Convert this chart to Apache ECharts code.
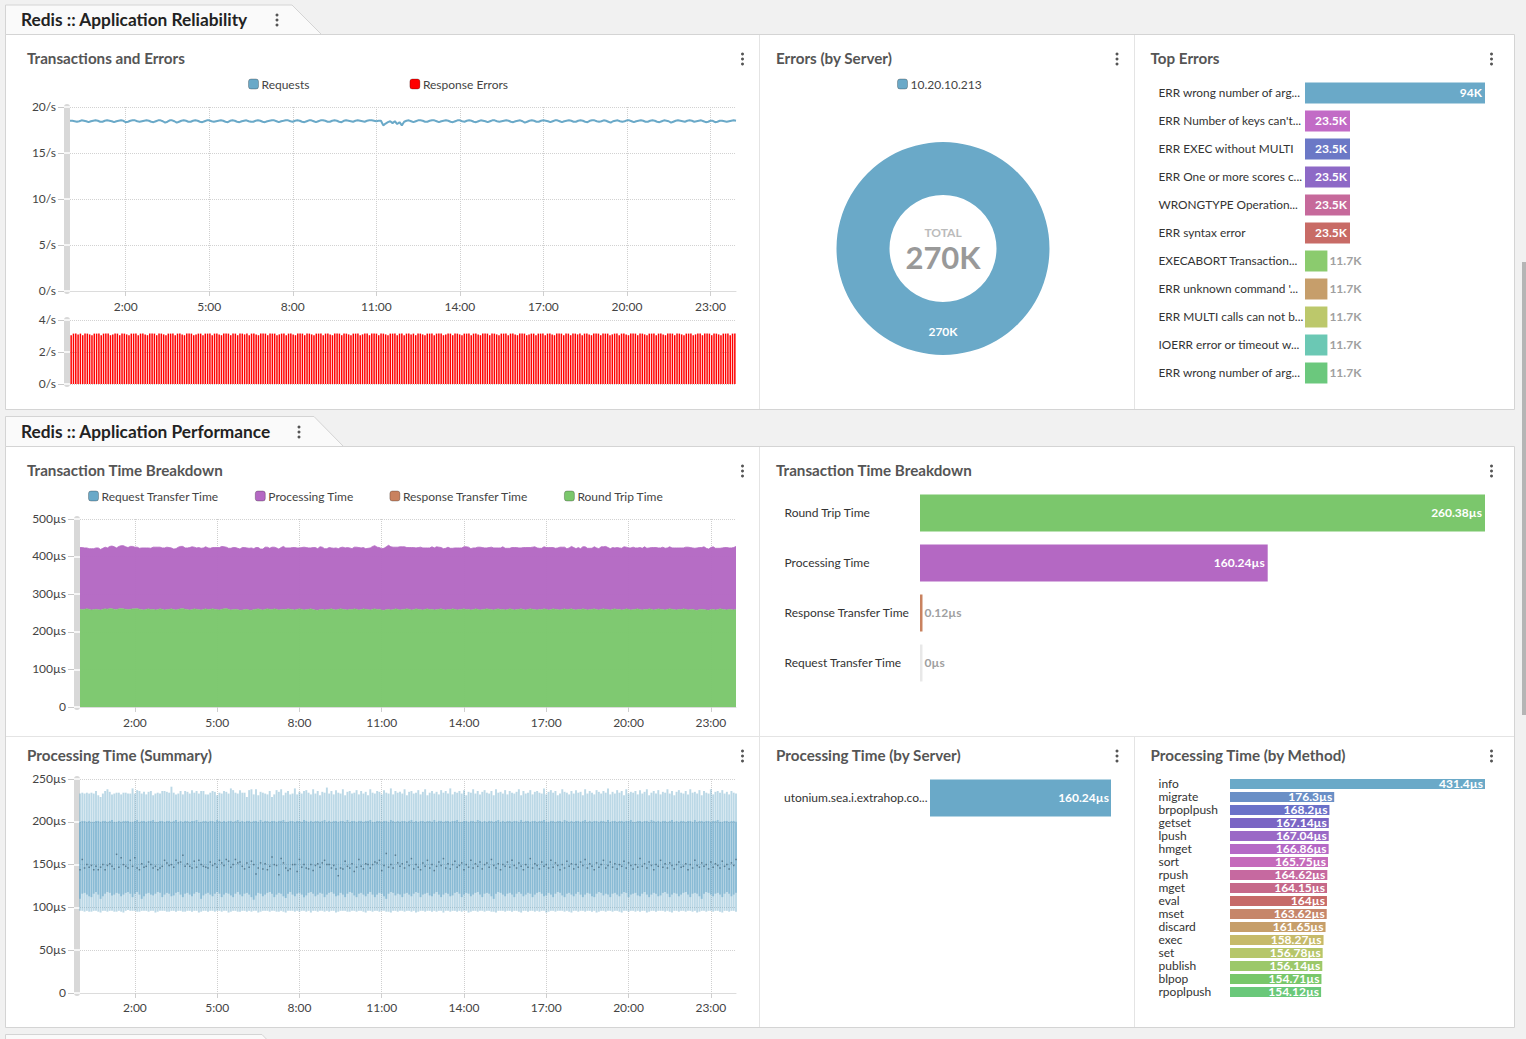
<!DOCTYPE html>
<html><head><meta charset="utf-8">
<style>html,body{margin:0;padding:0;background:#f1f1f1;overflow:hidden}#c{width:1526px;height:1039px}</style>
<script src="https://cdn.jsdelivr.net/npm/echarts@6/dist/echarts.min.js"></script>
</head><body><div id="c"></div>
<script>
const tickLabels=['2:00','5:00','8:00','11:00','14:00','17:00','20:00','23:00'];
const requests=[
18.5,18.5,18.45,18.4,18.45,18.55,18.5,18.45,18.35,18.45,18.5,18.55,
18.5,18.4,18.4,18.5,18.55,18.5,18.45,18.35,18.45,18.5,18.55,18.5,
18.35,18.4,18.5,18.55,18.55,18.45,18.4,18.45,18.5,18.55,18.5,18.4,
18.35,18.45,18.55,18.55,18.45,18.3,18.4,18.55,18.55,18.45,18.3,18.4,
18.5,18.55,18.5,18.4,18.4,18.5,18.55,18.5,18.4,18.35,18.45,18.55,
18.55,18.45,18.4,18.45,18.5,18.55,18.5,18.4,18.35,18.5,18.55,18.5,
18.4,18.35,18.45,18.5,18.55,18.45,18.4,18.4,18.5,18.55,18.5,18.4,
18.35,18.45,18.5,18.55,18.55,18.45,18.35,18.45,18.5,18.55,18.55,18.45,
18.4,18.5,18.55,18.5,18.4,18.35,18.45,18.55,18.55,18.45,18.35,18.45,
18.55,18.55,18.5,18.4,18.4,18.5,18.55,18.5,18.4,18.35,18.5,18.55,
18.5,18.45,18.4,18.5,18.55,18.5,18.45,18.4,18.5,18.55,18.55,18.5,
18.45,18.5,18.5,18.0,18.2,18.35,18.45,18.25,18.45,18.15,18.35,18.0,
18.4,18.5,18.55,18.45,18.35,18.45,18.55,18.55,18.5,18.4,18.4,18.5,
18.55,18.55,18.45,18.35,18.45,18.5,18.55,18.5,18.4,18.35,18.45,18.55,
18.55,18.45,18.4,18.5,18.55,18.5,18.4,18.35,18.45,18.55,18.5,18.45,
18.35,18.45,18.55,18.55,18.45,18.4,18.45,18.5,18.55,18.5,18.4,18.35,
18.45,18.5,18.55,18.45,18.3,18.4,18.5,18.55,18.5,18.4,18.4,18.5,
18.55,18.5,18.45,18.35,18.45,18.55,18.55,18.45,18.35,18.45,18.5,18.55,
18.5,18.4,18.4,18.5,18.55,18.5,18.4,18.35,18.5,18.55,18.55,18.45,
18.4,18.45,18.55,18.5,18.4,18.3,18.45,18.5,18.55,18.45,18.4,18.45,
18.55,18.55,18.45,18.35,18.45,18.5,18.55,18.5,18.4,18.4,18.5,18.55,
18.5,18.4,18.35,18.45,18.55,18.5,18.45,18.3,18.4,18.5,18.55,18.5,
18.45,18.4,18.5,18.55,18.5,18.4,18.45,18.5,18.55,18.45,18.35,18.4,
18.5,18.5,18.35,18.4,18.5,18.5,18.45,18.4,18.45,18.5,18.55,18.5];
const responseErrors=[
3.05,3.15,3.15,3.1,3.15,3.05,3.15,3.15,3.1,3.05,3.15,3.15,
3.15,3.05,3.15,3.15,3.15,3.05,3.1,3.15,3.15,3.05,3.15,3.15,
3.1,3.05,3.15,3.15,3.15,3.05,3.15,3.15,3.1,3.05,3.15,3.15,
3.15,3.05,3.15,3.15,3.1,3.05,3.15,3.15,3.15,3.05,3.15,3.15,
3.1,3.05,3.15,3.15,3.15,3.05,3.1,3.15,3.15,3.05,3.15,3.15,
3.15,3.05,3.15,3.15,3.1,3.05,3.15,3.15,3.15,3.05,3.15,3.15,
3.05,3.15,3.15,3.1,3.15,3.05,3.15,3.15,3.1,3.05,3.15,3.15,
3.15,3.05,3.15,3.15,3.15,3.05,3.1,3.15,3.15,3.05,3.15,3.15,
3.1,3.05,3.15,3.15,3.15,3.05,3.15,3.15,3.1,3.05,3.15,3.15,
3.15,3.05,3.15,3.15,3.1,3.05,3.15,3.15,3.15,3.05,3.15,3.15,
3.1,3.05,3.15,3.15,3.15,3.05,3.1,3.15,3.15,3.05,3.15,3.15,
3.15,3.05,3.15,3.15,3.1,3.05,3.15,3.15,3.15,3.05,3.15,3.15,
3.05,3.15,3.15,3.1,3.15,3.05,3.15,3.15,3.1,3.05,3.15,3.15,
3.15,3.05,3.15,3.15,3.15,3.05,3.1,3.15,3.15,3.05,3.15,3.15,
3.1,3.05,3.15,3.15,3.15,3.05,3.15,3.15,3.1,3.05,3.15,3.15,
3.15,3.05,3.15,3.15,3.1,3.05,3.15,3.15,3.15,3.05,3.15,3.15,
3.1,3.05,3.15,3.15,3.15,3.05,3.1,3.15,3.15,3.05,3.15,3.15,
3.15,3.05,3.15,3.15,3.1,3.05,3.15,3.15,3.15,3.05,3.15,3.15,
3.05,3.15,3.15,3.1,3.15,3.05,3.15,3.15,3.1,3.05,3.15,3.15,
3.15,3.05,3.15,3.15,3.15,3.05,3.1,3.15,3.15,3.05,3.15,3.15,
3.1,3.05,3.15,3.15,3.15,3.05,3.15,3.15,3.1,3.05,3.15,3.15,
3.15,3.05,3.15,3.15,3.1,3.05,3.15,3.15,3.15,3.05,3.15,3.15,
3.1,3.05,3.15,3.15,3.15,3.05,3.1,3.15,3.15,3.05,3.15,3.15,
3.15,3.05,3.15,3.15,3.1,3.05,3.15,3.15,3.15,3.05,3.15,3.15];
const roundTrip=[
260,259,260,261,260,258,259,260,259,258,260,261,
260,262,261,260,259,261,262,261,260,259,260,261,
261,262,260,259,258,260,261,259,260,258,259,261,
260,258,259,260,261,259,258,260,261,262,260,259,
258,259,261,260,259,258,260,261,259,260,261,260,
259,258,260,261,262,260,258,259,260,259,257,258,
259,260,258,257,259,260,261,259,258,260,261,260,
259,261,260,258,259,260,259,261,260,259,258,260,
261,260,258,259,260,261,259,258,257,259,260,258,
259,260,261,259,258,260,261,260,259,258,260,259,
261,260,258,259,261,260,259,258,260,261,259,260,
258,257,259,260,258,259,261,260,258,259,260,261,
260,258,259,261,260,259,258,260,261,259,260,258,
259,260,261,259,258,260,259,261,260,258,259,260,
261,259,260,258,259,261,260,258,259,260,261,260,
259,258,260,261,259,260,258,259,261,260,258,259,
260,261,259,258,260,261,260,259,258,260,259,261,
260,258,259,261,260,259,258,260,261,259,260,261,
259,258,260,259,261,260,258,259,260,261,259,258,
260,261,260,259,258,260,261,259,260,258,259,261,
260,258,259,260,261,259,258,260,259,261,260,258,
259,261,260,259,258,260,261,260,259,258,260,259,
261,260,258,259,260,258,257,259,260,259,258,257,
259,260,258,259,261,260,259,258,260,259,258,260];
const processing=[
164,165,163,162,161,163,162,163,164,161,162,164,
163,165,167,166,164,166,167,168,166,165,167,166,
164,163,162,164,165,163,162,163,165,167,166,164,
163,165,166,164,162,161,163,165,166,165,163,164,
166,167,164,163,165,164,163,165,164,162,163,164,
165,166,167,165,163,162,164,165,164,163,163,166,
165,163,164,166,162,164,163,161,162,165,164,162,
166,164,163,162,165,167,164,162,163,165,166,163,
162,164,167,165,163,162,165,166,164,167,165,163,
162,164,162,163,165,161,163,165,164,166,163,162,
164,165,166,164,163,161,163,165,167,168,166,164,
163,165,167,170,168,166,164,165,168,167,166,163,
164,166,165,162,164,166,165,163,162,164,166,165,
167,165,163,162,164,165,163,161,163,165,164,163,
165,167,165,163,164,162,165,167,165,163,162,164,
166,165,163,162,164,166,164,163,161,164,166,165,
163,162,165,166,164,163,165,167,165,162,163,165,
164,166,165,163,162,164,167,165,164,162,163,166,
165,163,164,162,165,166,164,163,162,165,164,163,
166,165,167,165,163,164,162,165,163,164,167,164,
163,165,166,163,162,165,164,166,163,162,164,166,
165,162,163,166,164,163,165,163,164,165,163,164,
162,165,167,165,163,164,166,165,164,167,164,163,
165,166,164,163,161,163,165,166,163,164,166,167];
const requestTransfer=[
0,0,0,0,0,0,0,0,0,0,0,0, 0,0,0,0,0,0,0,0,0,0,0,0, 0,0,0,0,0,0,0,0,0,0,0,0, 0,0,0,0,0,0,0,0,0,0,0,0,
0,0,0,0,0,0,0,0,0,0,0,0, 0,0,0,0,0,0,0,0,0,0,0,0, 0,0,0,0,0,0,0,0,0,0,0,0, 0,0,0,0,0,0,0,0,0,0,0,0,
0,0,0,0,0,0,0,0,0,0,0,0, 0,0,0,0,0,0,0,0,0,0,0,0, 0,0,0,0,0,0,0,0,0,0,0,0, 0,0,0,0,0,0,0,0,0,0,0,0,
0,0,0,0,0,0,0,0,0,0,0,0, 0,0,0,0,0,0,0,0,0,0,0,0, 0,0,0,0,0,0,0,0,0,0,0,0, 0,0,0,0,0,0,0,0,0,0,0,0,
0,0,0,0,0,0,0,0,0,0,0,0, 0,0,0,0,0,0,0,0,0,0,0,0, 0,0,0,0,0,0,0,0,0,0,0,0, 0,0,0,0,0,0,0,0,0,0,0,0,
0,0,0,0,0,0,0,0,0,0,0,0, 0,0,0,0,0,0,0,0,0,0,0,0, 0,0,0,0,0,0,0,0,0,0,0,0, 0,0,0,0,0,0,0,0,0,0,0,0];
const responseTransfer=[
.1,.1,.1,.1,.1,.1,.1,.1,.1,.1,.1,.1, .1,.1,.1,.1,.1,.1,.1,.1,.1,.1,.1,.1, .1,.1,.1,.1,.1,.1,.1,.1,.1,.1,.1,.1, .1,.1,.1,.1,.1,.1,.1,.1,.1,.1,.1,.1,
.1,.1,.1,.1,.1,.1,.1,.1,.1,.1,.1,.1, .1,.1,.1,.1,.1,.1,.1,.1,.1,.1,.1,.1, .1,.1,.1,.1,.1,.1,.1,.1,.1,.1,.1,.1, .1,.1,.1,.1,.1,.1,.1,.1,.1,.1,.1,.1,
.1,.1,.1,.1,.1,.1,.1,.1,.1,.1,.1,.1, .1,.1,.1,.1,.1,.1,.1,.1,.1,.1,.1,.1, .1,.1,.1,.1,.1,.1,.1,.1,.1,.1,.1,.1, .1,.1,.1,.1,.1,.1,.1,.1,.1,.1,.1,.1,
.1,.1,.1,.1,.1,.1,.1,.1,.1,.1,.1,.1, .1,.1,.1,.1,.1,.1,.1,.1,.1,.1,.1,.1, .1,.1,.1,.1,.1,.1,.1,.1,.1,.1,.1,.1, .1,.1,.1,.1,.1,.1,.1,.1,.1,.1,.1,.1,
.1,.1,.1,.1,.1,.1,.1,.1,.1,.1,.1,.1, .1,.1,.1,.1,.1,.1,.1,.1,.1,.1,.1,.1, .1,.1,.1,.1,.1,.1,.1,.1,.1,.1,.1,.1, .1,.1,.1,.1,.1,.1,.1,.1,.1,.1,.1,.1,
.1,.1,.1,.1,.1,.1,.1,.1,.1,.1,.1,.1, .1,.1,.1,.1,.1,.1,.1,.1,.1,.1,.1,.1, .1,.1,.1,.1,.1,.1,.1,.1,.1,.1,.1,.1, .1,.1,.1,.1,.1,.1,.1,.1,.1,.1,.1,.1];
const boxMin=[
96,96,95,96,95,95,96,96,95,94,96,96,95,96,96,95,95,96,95,94,96,97,96,96,
96,95,95,96,96,96,95,96,96,94,95,96,96,96,95,95,96,96,95,96,96,95,95,96,
96,95,96,96,94,95,96,96,95,96,96,95,96,96,95,96,96,94,95,96,96,95,95,96,
96,95,96,95,96,96,94,95,96,96,96,95,96,96,95,95,96,95,94,96,96,96,95,96,
95,96,96,95,96,94,96,96,95,96,96,95,96,95,96,96,94,95,96,96,96,95,95,96,
96,95,96,96,95,94,96,96,95,96,96,95,96,96,95,95,94,96,96,95,96,96,95,96,
96,95,96,94,95,96,96,95,96,96,95,96,95,96,96,94,96,96,95,96,96,95,96,95,
96,96,94,95,96,96,95,96,96,95,96,96,95,95,94,96,96,96,95,96,96,95,96,96,
95,94,96,96,95,96,96,95,96,95,96,96,94,95,96,96,95,96,96,96,95,96,95,94,
96,96,95,96,96,95,96,96,95,96,94,95,96,96,95,96,96,95,96,96,95,94,96,96,
95,96,96,95,96,95,96,96,94,95,96,96,95,96,96,96,95,96,95,94,96,96,95,96,
96,95,96,96,95,96,94,95,96,96,95,96,96,95,96,96,95,94,96,96,95,96,96,95];
const boxQ1=[
110,116,117,115,113,112,116,118,115,110,113,116,118,117,114,115,117,116,113,115,117,118,116,112,
116,118,115,110,113,116,117,115,114,116,118,117,112,115,117,116,113,114,117,118,115,112,116,117,
115,113,116,118,117,110,114,116,117,115,113,116,118,116,112,115,117,116,114,112,116,118,115,113,
116,117,115,112,109,114,117,116,113,115,117,118,116,112,115,117,116,113,111,116,118,115,113,116,
117,115,112,114,117,118,116,113,115,117,116,112,115,117,118,116,113,114,117,115,112,116,118,117,
114,112,116,117,115,113,116,118,115,112,115,117,116,113,110,116,118,117,114,116,115,112,116,117,
115,113,116,118,117,112,115,116,117,114,113,116,118,115,112,115,117,116,113,114,117,118,116,112,
115,117,116,113,115,117,118,115,112,116,117,116,113,110,116,118,117,115,113,116,117,115,112,116,
118,116,113,115,117,116,112,115,117,118,116,113,114,117,115,112,116,118,117,114,112,116,117,115,
113,116,118,115,112,115,117,116,113,112,116,118,117,114,116,115,112,116,117,115,113,116,118,117,
112,115,116,117,114,113,116,118,115,112,115,117,116,113,114,117,118,116,112,115,117,116,113,115,
117,118,115,112,116,117,116,113,110,116,118,117,115,113,116,117,115,112,116,118,116,113,115,117];
const boxMed=[
144,156,146,150,147,149,144,148,144,147,150,144,149,151,148,145,162,147,158,150,148,146,155,148,
158,146,144,151,147,148,153,150,146,148,144,146,148,155,152,149,150,147,155,152,153,161,148,151,
148,146,154,147,155,150,148,147,146,153,149,151,147,155,152,149,156,154,147,150,156,152,153,148,
145,152,147,154,150,139,146,152,145,151,144,148,159,150,149,138,157,152,146,143,145,150,150,142,
156,147,150,146,145,150,143,149,151,147,152,155,150,150,146,149,145,137,146,145,154,148,146,151,
142,147,156,148,145,151,150,146,150,153,152,155,143,149,163,147,150,146,161,152,148,151,146,153,
149,157,145,150,147,144,152,148,155,146,150,143,148,153,149,157,146,151,145,150,154,147,149,152,
144,150,147,155,146,151,148,153,145,150,152,147,156,149,146,151,144,150,148,153,147,155,149,146,
152,148,144,150,147,157,146,151,149,145,153,148,150,146,155,147,152,149,144,150,146,154,148,151,
145,150,147,153,149,156,146,151,148,144,152,147,150,155,146,149,153,147,151,145,150,148,154,146,
152,149,145,150,147,157,148,151,146,153,149,144,150,148,155,147,151,146,152,149,145,150,153,147,
148,151,144,150,146,155,149,147,152,148,150,145,153,147,151,149,146,154,148,150,145,152,149,156];
const boxQ3=[
200,201,201,200,201,200,200,201,201,200,201,201,200,201,202,200,200,201,200,201,201,201,200,200,
201,202,200,201,201,200,201,201,202,200,200,201,201,200,201,201,200,201,202,200,201,200,201,201,
200,201,201,202,200,200,201,201,200,201,201,200,202,201,200,201,200,201,201,200,201,202,200,201,
200,201,201,200,201,201,200,202,200,201,201,200,201,201,200,201,201,202,200,200,201,201,200,201,
201,200,202,201,200,201,200,201,201,200,201,202,200,201,200,201,201,200,201,201,200,202,200,201,
201,200,201,201,200,201,201,202,200,200,201,201,200,201,201,200,202,201,200,201,200,201,201,200,
201,202,200,201,200,201,201,200,201,201,200,202,200,201,201,200,201,201,200,201,201,202,200,200,
201,201,200,201,201,200,202,201,200,201,200,201,201,200,201,202,200,201,200,201,201,200,201,201,
200,202,200,201,201,200,201,201,200,201,201,202,200,200,201,201,200,201,201,200,202,201,200,201,
200,201,201,200,201,202,200,201,200,201,201,200,201,201,200,202,200,201,201,200,201,201,200,201,
201,202,200,200,201,201,200,201,201,200,202,201,200,201,200,201,201,200,201,202,200,201,200,201,
201,200,201,201,200,202,200,201,201,200,201,201,200,201,201,202,200,200,201,201,200,201,201,200];
const boxMax=[
233,234,233,234,233,234,233,236,231,229,233,236,238,235,232,233,234,234,232,234,234,233,233,239,
233,237,236,233,235,232,235,236,231,233,234,233,236,236,235,234,241,234,232,233,236,232,236,235,
233,237,234,236,233,236,236,232,232,234,236,235,231,234,233,236,235,233,239,237,234,233,237,234,
234,229,237,238,232,238,231,235,234,233,232,236,229,232,237,235,238,231,234,236,232,233,239,232,
235,233,236,237,234,232,238,233,236,231,235,234,240,233,236,232,237,234,233,238,231,235,236,233,
234,237,232,236,233,235,231,238,234,233,236,235,232,237,234,233,239,232,236,234,235,233,238,231,
235,236,233,234,237,232,235,238,231,234,236,233,235,232,237,234,236,233,239,232,235,234,236,233,
237,231,235,234,238,233,236,232,235,237,234,233,236,231,238,234,235,233,237,232,236,234,233,235,
238,231,236,233,234,237,232,235,236,234,233,239,232,235,237,234,236,231,233,238,235,234,232,236,
233,237,234,235,231,238,233,236,234,232,237,235,233,236,234,239,232,235,233,237,234,236,231,238,
233,235,234,236,232,237,233,235,238,231,234,236,233,237,232,235,234,238,233,236,231,235,237,234,
233,236,232,238,234,235,233,237,231,236,234,233,238,232,235,236,234,237,233,235,232,236,234,233];
const topErrorNames=["ERR wrong number of arg...","ERR Number of keys can't...","ERR EXEC without MULTI","ERR One or more scores c...","WRONGTYPE Operation...","ERR syntax error","EXECABORT Transaction...","ERR unknown command '...","ERR MULTI calls can not b...","IOERR error or timeout w...","ERR wrong number of arg..."];
const topErrorValues=[94000,23500,23500,23500,23500,23500,11700,11700,11700,11700,11700];
const topErrorColors=['#6aa9c8','#c26bc6','#6b78c6','#8d69c6','#c6699b','#c86b66','#8bcb6e','#c69e6b','#bcc86b','#6bc8b4','#6bc87d'];
const serverNames=['10.20.10.213'];
const serverErrors=[270000];
const breakdownNames=['Round Trip Time','Processing Time','Response Transfer Time','Request Transfer Time'];
const breakdownValues=[260.38,160.24,0.12,0];
const breakdownColors=['#7bc76c','#b468c3','#c9825f','#e8e8e8'];
const procServerNames=['utonium.sea.i.extrahop.co...'];
const procServerValues=[160.24];
const methodNames=['info','migrate','brpoplpush','getset','lpush','hmget','sort','rpush','mget','eval','mset','discard','exec','set','publish','blpop','rpoplpush'];
const methodValues=[431.4,176.3,168.2,167.14,167.04,166.86,165.75,164.62,164.15,164,163.62,161.65,158.27,156.78,156.14,154.71,154.12];
const methodColors=['#6aa9c8','#6a8fc6','#6b72c8','#7a65c4','#9a69c6','#b569c6','#c56abb','#c669a0','#c6698a','#c66a68','#c6866a','#c69e6a','#c6ba6a','#b6c66a','#9cc86a','#78c76a','#6ac87a'];

const FONT='Lato';
const times=[];for(let h=0;h<24;h++)for(let m=0;m<60;m+=5)times.push(h+':'+String(m).padStart(2,'0'));
const isTick=(i,v)=>tickLabels.includes(v);
const grids=[],xAxes=[],yAxes=[],series=[],titles=[],legends=[],graphics=[];
const lift={verticalAlign:'bottom',lineHeight:2};
function timeChart(o){
  const g=grids.length;
  grids.push({left:o.l,top:o.t,width:o.r-o.l,height:o.b-o.t});
  xAxes.push({type:'category',gridIndex:g,data:times,boundaryGap:o.gap,
    axisLine:{show:!o.noX,lineStyle:{color:'#dcdcdc',width:1}},
    axisTick:{show:!o.noX,interval:isTick,alignWithLabel:true,length:5,lineStyle:{color:'#cfcfcf'}},
    axisLabel:{show:!o.noX,interval:isTick,color:'#444',fontFamily:FONT,fontSize:12,margin:o.xm||9},
    splitLine:{show:!o.noX,interval:isTick,lineStyle:{color:'#cfcfcf',type:'dotted'}}});
  const y={type:'value',gridIndex:g,position:'left',min:o.min,max:o.max,interval:o.step};
  const yi=yAxes.length;
  yAxes.push({...y,offset:6,axisLine:{show:false},axisTick:{show:true,length:6,lineStyle:{color:'#c8c8c8'}},
    axisLabel:{color:'#444',fontFamily:FONT,fontSize:12,margin:8,...lift,formatter:v=>v===0&&o.zero?'0':v+o.unit},
    splitLine:{show:true,lineStyle:{color:'#d2d2d2',type:'dotted'}}});
  yAxes.push({...y,offset:3,axisLine:{show:true,lineStyle:{color:'#d8d8d8',width:6}},axisTick:{show:false},axisLabel:{show:false},splitLine:{show:false}});
  yAxes.push({...y,offset:6,axisLine:{show:false},axisTick:{show:true,inside:true,length:6,lineStyle:{color:'#fff',width:1.5}},axisLabel:{show:false},splitLine:{show:false}});
  return {x:g,y:yi};
}
function barChart(o){
  const g=grids.length;
  grids.push({left:o.l,top:o.t,width:o.r-o.l,height:o.b-o.t});
  xAxes.push({type:'value',gridIndex:g,min:0,max:o.max,show:false});
  yAxes.push({type:'category',gridIndex:g,data:o.names,inverse:true,axisLine:{show:false},axisTick:{show:false},
    axisLabel:{color:'#333',fontFamily:FONT,fontSize:o.fs||12,align:'left',margin:o.l-o.labelX,interval:0,...lift}});
  series.push({type:'bar',xAxisIndex:g,yAxisIndex:yAxes.length-1,barWidth:o.h,barMinHeight:o.minW||0,silent:true,
    data:o.values.map((v,i)=>{const inside=v>=o.thresh;return {value:v,itemStyle:{color:o.colors[i]},
      label:{show:true,position:inside?'insideRight':'right',distance:inside?o.d||2:2,color:inside?'#fff':'#a0a0a0',fontFamily:FONT,fontWeight:'bold',fontSize:12,...lift,formatter:()=>o.fmt(v)}};})});
}
const us=v=>v+'µs';

/* 1 Requests */
let a=timeChart({l:70,r:736,t:107,b:291,min:0,max:20,step:5,unit:'/s',gap:false});
series.push({name:'Requests',type:'line',xAxisIndex:a.x,yAxisIndex:a.y,data:requests,showSymbol:false,symbol:'none',color:'#6aa9c8',lineStyle:{width:2,color:'#6aa9c8'},itemStyle:{color:'#6aa9c8'}});
/* 2 Errors */
a=timeChart({l:70,r:736,t:320,b:384,min:0,max:4,step:2,unit:'/s',gap:true,noX:true});
series.push({name:'Response Errors',type:'bar',xAxisIndex:a.x,yAxisIndex:a.y,data:responseErrors,barWidth:1.5,color:'#ff0000',itemStyle:{color:'#ff0000'}});
/* 3 Stacked */
a=timeChart({l:80,r:736,t:519,b:707,min:0,max:500,step:100,unit:'µs',zero:true,gap:false});
const area=(name,data,color,lw)=>series.push({name,type:'line',stack:'tt',xAxisIndex:a.x,yAxisIndex:a.y,data,showSymbol:false,symbol:'none',color,
  lineStyle:{width:lw,color},areaStyle:{color,opacity:.97},itemStyle:{color}});
area('Round Trip Time',roundTrip,'#7bc76c',.6);
area('Response Transfer Time',responseTransfer,'#c9825f',0);
area('Processing Time',processing,'#b468c3',.8);
area('Request Transfer Time',requestTransfer,'#6aa9c8',0);
/* 4 Box */
a=timeChart({l:80,r:736,t:779,b:993,min:0,max:250,step:50,unit:'µs',zero:true,gap:false,xm:8});
series.push({type:'custom',xAxisIndex:a.x,yAxisIndex:a.y,silent:true,clip:false,encode:{x:0,y:[1,2,3,4,5]},
  data:times.map((t,i)=>[i,boxMin[i],boxQ1[i],boxMed[i],boxQ3[i],boxMax[i]]),
  renderItem:(p,api)=>{
    const c=k=>api.coord([api.value(0),api.value(k)]);
    const w=1.9,x=c(1)[0]-w/2;
    const rect=(top,bot,fill)=>({type:'rect',shape:{x,y:c(top)[1],width:w,height:c(bot)[1]-c(top)[1]},style:{fill}});
    const m=c(3);
    return {type:'group',children:[
      rect(5,1,'rgba(106,169,200,.46)'),
      rect(4,2,'rgba(85,155,195,.48)'),
      {type:'rect',shape:{x:m[0]-.75,y:m[1]-.75,width:1.5,height:1.5},style:{fill:'#557a90'}}
    ]};
  }});
/* Donut */
series.push({type:'pie',center:[943,248.5],radius:[53.5,106.5],startAngle:90,silent:true,
  data:serverNames.map((n,i)=>({name:n,value:serverErrors[i],itemStyle:{color:'#6aa9c8'}})),
  label:{show:true,position:'inside',color:'#fff',fontFamily:FONT,fontWeight:'bold',fontSize:12,...lift,formatter:p=>p.value/1000+'K'},labelLine:{show:false}});
/* Bars */
barChart({l:1305,r:1485,t:79,b:387,max:94000,h:21,names:topErrorNames,values:topErrorValues,colors:topErrorColors,labelX:1158.5,fs:11.85,thresh:20000,d:3,fmt:v=>v/1000+'K'});
barChart({l:920,r:1485,t:488,b:688,max:260.38,h:37,names:breakdownNames,values:breakdownValues,colors:breakdownColors,labelX:784.5,thresh:1,minW:2.5,d:3,fmt:us});
barChart({l:930,r:1111,t:773,b:823,max:160.24,h:37,names:procServerNames,values:procServerValues,colors:['#6aa9c8'],labelX:784,thresh:1,fmt:us});
barChart({l:1230,r:1485,t:777.5,b:998.5,max:431.4,h:10,names:methodNames,values:methodValues,colors:methodColors,labelX:1158.5,thresh:1,fmt:us});

/* legends */
const lg=(left,top,data,gap)=>legends.push({left,top,data,itemGap:gap,itemWidth:10,itemHeight:10,icon:'roundRect',padding:0,selectedMode:false,
  itemStyle:{borderWidth:1,borderColor:'rgba(0,0,0,.25)'},textStyle:{color:'#444',fontFamily:FONT,fontSize:12,padding:[0,0,0,-2]}});
lg(248,78,['Requests','Response Errors'],100);
lg(897,78,serverNames,10);
lg(88,490,['Request Transfer Time','Processing Time','Response Transfer Time','Round Trip Time'],35.7);

/* titles */
const tt=(text,left,top,size,color,extra)=>titles.push({text,left,top,padding:0,...extra,textStyle:{color,fontFamily:FONT,fontWeight:'bold',fontSize:size}});
tt('Redis :: Application Reliability',21,11,17.3,'#222');
tt('Redis :: Application Performance',21,423,17.3,'#222');
[['Transactions and Errors',27,50],['Errors (by Server)',776,50],['Top Errors',1150.5,50],['Transaction Time Breakdown',27,462],['Transaction Time Breakdown',776,462],['Processing Time (Summary)',27,747],['Processing Time (by Server)',776,747],['Processing Time (by Method)',1150.5,747]].forEach(t=>tt(t[0],t[1],t[2],15.2,'#555'));
tt('TOTAL',943,226,12,'#bbb',{textAlign:'center'});
tt('270K',943,241,31,'#999',{textAlign:'center'});

/* chrome */
const line='#d4d4d4';
const poly=(points,fill)=>graphics.push({type:'polygon',z:-5,shape:{points},style:{fill,stroke:line,lineWidth:1},silent:true});
const rect=(x,y,w,h,fill,stroke)=>graphics.push({type:'rect',z:-6,shape:{x,y,width:w,height:h},style:{fill,stroke:stroke||null,lineWidth:1},silent:true});
const seg=(x1,y1,x2,y2)=>graphics.push({type:'line',z:-4,shape:{x1,y1,x2,y2},style:{stroke:'#e4e4e4',lineWidth:1},silent:true});
const dots=(x,y)=>[-5,0,5].forEach(d=>graphics.push({type:'circle',z:-3,shape:{cx:x,cy:y+d,r:1.5},style:{fill:'#555'},silent:true}));
rect(5.5,34.5,1509,375,'#fff',line);
rect(5.5,446.5,1509,581,'#fff',line);
poly([[5.5,34.5],[5.5,5],[292,5],[321.5,34.5]],'#fafafa');
poly([[5.5,446.5],[5.5,416.5],[314,416.5],[343.5,446.5]],'#fafafa');
poly([[5.5,1050],[5.5,1034.5],[262,1034.5],[277,1050]],'#fafafa');
seg(759.5,35,759.5,409);seg(1134.5,35,1134.5,409);
seg(759.5,447,759.5,1027);seg(6,736.5,1514,736.5);seg(1134.5,737,1134.5,1027);
rect(1522,262,4,453,'#b5b5b5');
dots(277,20);dots(299,432);
[[742.5,59],[1117,59],[1491.5,59],[742.5,471],[1491.5,471],[742.5,756],[1117,756],[1491.5,756]].forEach(d=>dots(d[0],d[1]));

const chart=echarts.init(document.getElementById('c'),null,{renderer:'svg',width:1526,height:1039});
chart.setOption({animation:false,backgroundColor:'#f1f1f1',textStyle:{fontFamily:FONT},grid:grids,xAxis:xAxes,yAxis:yAxes,series,title:titles,legend:legends,graphic:{elements:graphics},tooltip:{show:false}});
</script></body></html>
